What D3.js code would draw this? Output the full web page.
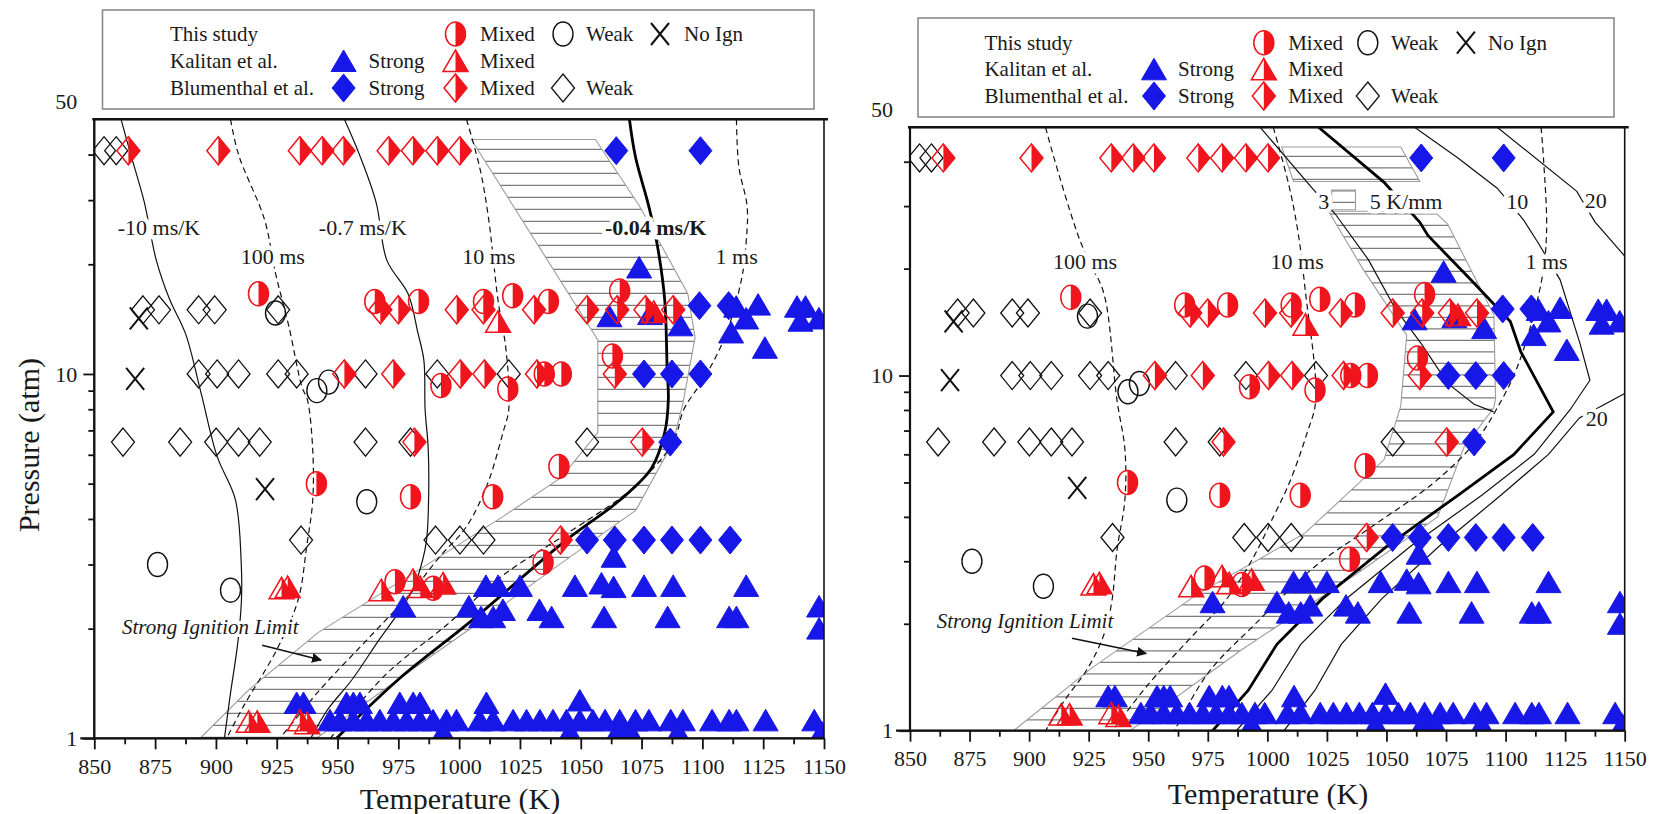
<!DOCTYPE html>
<html><head><meta charset="utf-8">
<script src="https://cdn.jsdelivr.net/npm/d3@7"></script>
<style>
body{margin:0;background:#fff}
svg{display:block}
svg text{font-family:'Liberation Serif','Times New Roman',Times,'Nimbus Roman',FreeSerif,'DejaVu Serif','Noto Serif',serif !important;fill:#1a1a1a}
</style></head>
<body><svg id="c" width="1658" height="814"></svg>
<script>
// ---------- axis ticks ----------
const tempMajor = d3.range(850, 1151, 25);
const tempMinor = d3.range(862.5, 1150, 25);
const pressMajor = [1, 10];
const pressTop = 50;
const pressMinor = [2,3,4,5,6,7,8,9,20,30,40];

// ---------- experimental data [T (K), P (atm)] ----------
const thisStudyMixed = [[917.5,16.6],[965.3,15.8],[983.3,15.8],[1010,15.8],[1022,16.4],[1036.7,15.8],[1066,16.9],[1063,11.2],[992.5,9.3],[1020,9.1],[1035,10],[1042,10],[941.3,5.0],[980,4.6],[1013.8,4.6],[1041,5.57],[1034.5,3.04],[973.6,2.69],[989.3,2.58]];
const thisStudyWeak = [[924.5,14.7],[941.5,9.0],[946.3,9.5],[962,4.46],[876,3.0],[906,2.55]];
const thisStudyNoIgn = [[868.3,14.2],[866.8,9.7],[920.2,4.83]];
const kalitanStrong = [
 [946.9,1.12],[951,1.12],[956.5,1.12],[962,1.12],[967.4,1.12],[972.9,1.12],[978.4,1.12],[983.9,1.12],[989.3,1.12],[994.8,1.12],[998.9,1.12],[1008.5,1.12],[1014,1.12],[1022.2,1.12],[1027.7,1.12],[1033.2,1.12],[1038.6,1.12],[1044.1,1.12],[1049.6,1.12],[1055,1.12],[1060,1.12],[1066,1.12],[1072.5,1.12],[1078,1.12],[1087,1.12],[1092,1.12],[1104,1.12],[1111,1.12],[1114,1.12],[1126,1.12],[1146,1.12],
 [933.2,1.25],[936,1.25],[953.7,1.25],[956.5,1.25],[959.2,1.25],[975.6,1.25],[981.1,1.25],[983.9,1.25],[1011.2,1.25],[1049.6,1.27],
 [993.4,1.04],[1045.5,1.04],[1065,1.04],[1070.5,1.04],[1090,1.04],[1149,1.04],
 [1011,2.62],[1016,2.62],[1025,2.62],[1047.6,2.62],[1058.5,2.66],[1063.5,2.6],[1076,2.62],[1088,2.62],[1118,2.62],
 [977,2.3],[1004,2.3],[1018,2.25],[1033,2.25],[1148,2.3],
 [1009,2.15],[1014,2.15],[1038,2.15],[1059.6,2.15],[1085.7,2.15],[1111,2.15],[1114,2.15],[1148,2.0],[1063.5,3.15],
 [1074,19.6],[1061.8,14.4],[1078.5,14.6],[1091,13.6],[1111.8,13],[1113.9,15.3],[1118,14.2],[1122.9,15.5],[1125.7,11.8],[1138.9,15.3],[1142.4,15.3],[1140.3,14],[1147.9,14.2]
];
const kalitanMixed = [[1016,13.9],[1080,14.8],[927,2.58],[929.5,2.6],[968,2.55],[981,2.72],[984,2.6],[993.4,2.66],[913.5,1.11],[917,1.11],[934.5,1.12],[937.5,1.1]];
const blumenthalStrong = [[1064.6,41],[1099.2,41],[1098.8,15.4],[1110.8,15.4],[1076,10],[1087.5,10],[1099.2,10],[1086.8,6.5],[1052.6,3.5],[1064,3.5],[1076,3.5],[1087.5,3.5],[1099.2,3.5],[1111.4,3.5]];
const blumenthalMixed = [[864,41],[901,41],[934.5,41],[943.7,41],[952.4,41],[971,41],[981,41],[991,41],[1000.3,41],[967.6,15],[975,15],[999,15],[1010,15],[1030.8,15],[1052.6,15],[1065,15],[1076.6,15],[1088,15],[952.8,10],[972.9,10],[1000.5,10],[1010.4,10],[1032,10],[1064,10],[981.6,6.5],[1075.3,6.5],[1041.7,3.5]];
const blumenthalWeak = [[854,41],[859,41],[870,15],[876.6,15],[892.9,15],[899.5,15],[925.6,15],[892.9,10],[900.5,10],[909.3,10],[925.6,10],[933.2,10],[961.5,10],[991,10],[1020.4,10],[861.8,6.5],[885.3,6.5],[900.1,6.5],[909.3,6.5],[918,6.5],[961.5,6.5],[980,6.5],[1052.6,6.5],[935,3.5],[990.3,3.5],[1000.3,3.5],[1010,3.5]];

// ---------- left panel model curves ----------
const leftSlope10 = [[861,50],[865,40],[870.5,29.7],[875.5,20.5],[881,16],[887.5,12.9],[894,8.8],[900.5,5.94],[908,4.52],[910.4,3.03],[910.5,2.4],[909,1.83],[906,1.33],[903.5,1.0]];
const leftSlope07 = [[952.8,50],[959,40],[965.9,29.5],[970.3,20.5],[979,16.6],[983,13],[985.5,10.9],[986,8],[987.3,6.2],[987.3,4.16],[986.6,3.5],[985,3.09],[981,2.56],[974,2.16],[967,1.86],[956,1.45],[946,1.2],[939,1.0]];
const leftSlope004 = [[1070,50],[1072.5,39.4],[1078,28.8],[1081.5,22.5],[1084.5,16],[1085.5,10.4],[1086,8.5],[1084.5,6.9],[1079,5.5],[1066,4.5],[1044,3.5],[1005,2.1],[975,1.45],[949.6,1.0]];
const left100ms = [[906,50],[909.3,40],[920,26.5],[924.5,18.9],[930,13.5],[935.4,9.2],[937.6,8.5],[939.8,6.2],[939.8,4.5],[937.3,3.36],[933.8,2.4],[925,1.75],[911.2,1.22],[904.4,1.0]];
const left10ms = [[1003,50],[1008.4,37],[1012,27],[1016,15.9],[1019.3,11.6],[1020.4,8],[1018,6.9],[1011.7,5.0],[1003,3.81],[992,3.15],[980,2.5],[962,1.86],[942.8,1.36],[926.3,1.0]];
const left1ms = [[1114,50],[1115,37],[1118.4,28.8],[1118,23],[1116.3,18.5],[1109.8,12.9],[1101,9.8],[1092.4,8],[1088,6.5],[1072,4.9],[1043,3.6],[1018,2.8],[995,2.05],[970,1.5],[947,1.0]];
const leftBand = [[1005,44],[1057,12.4],[1057,6.9],[1042,5.2],[1018,4.06],[985.5,2.96],[942,1.95],[913.6,1.36],[893.5,1.0],[941.4,1.0],[976.8,1.48],[1011.7,2.16],[1040,2.96],[1072.7,4.23],[1088,6.5],[1092,8.3],[1097,12.6],[1094,16.6],[1084,22],[1074,29],[1056,44]];

// ---------- right panel model curves ----------
const right100ms = [[906.9,50],[910,42],[920.2,25.2],[925,21],[931.3,17.1],[936.9,8.5],[940.2,6.2],[940.2,4.47],[936.9,3.23],[934.8,2.33],[931.6,1.88],[924.9,1.51],[915,1.22],[906.9,1.0]];
const right10ms = [[1002.5,50],[1009.2,34],[1013,25],[1015.9,17.4],[1020.3,8.5],[1016.7,6.9],[1009.2,4.98],[1002.5,4.0],[993.6,3.03],[982.5,2.33],[966.9,1.8],[950,1.35],[935,1.0]];
const right1ms = [[1114.9,50],[1116,40],[1117.2,25.2],[1114.9,18.2],[1105,10.6],[1096,8],[1087,6.46],[1070,5.0],[1045,3.8],[1020,2.9],[995,2.0],[975,1.45],[961,1.0]];
const rightGrad5 = [[1021.5,50],[1049,35],[1064,27],[1067.4,24.8],[1085.4,18.6],[1102,14.2],[1106.3,11.7],[1120,7.9],[1103.5,6.0],[1080,4.6],[1050,3.3],[1023,2.35],[1004,1.75],[992,1.3],[977,1.0]];
const rightGrad3 = [[997,50],[1018.8,33.7],[1028.5,28.5],[1042.4,21.2],[1053.5,15.5],[1064.6,12.3],[1075.7,9.5],[1086.8,8.3],[1095,7.9]];
const rightGrad10 = [[1061.8,50],[1080,41],[1096.5,33.7],[1107.6,27.4],[1113.9,23.5],[1122.9,18.6],[1131.25,12.3],[1135.4,9.7],[1127,8.0],[1112,6.0],[1090,4.6],[1060,3.3],[1033,2.35],[1014,1.75],[1002,1.3],[987,1.0]];
const rightGrad20a = [[1096.5,50],[1129.9,33],[1137.5,27.1],[1150,21.7]];
const rightGrad20b = [[1150,8.9],[1131,7.6],[1118,6.0],[1098,4.6],[1072,3.3],[1048,2.35],[1031,1.75],[1020,1.3],[1007,1.0]];
const rightBandTop = [[1006,44],[1056,44],[1064,35.2],[1011,35.2]];
const rightBandMid = [[1027,33.3],[1037,33.3],[1037,29.3],[1027,29.3]];
const rightBandLow = [[1025.7,29],[1070,29],[1075.7,26.7],[1095.1,14.8],[1095.8,8.6],[1095,8.1],[1082.6,6.3],[1071.5,4.0],[1038,2.78],[989.2,1.69],[942.4,1.0],[893.5,1.0],[926.8,1.51],[971.3,2.44],[1015.8,3.6],[1049,5.8],[1056,8.2],[1058.5,13],[1040,20]];

const RED = '#f0141c', BLUE = '#1717e8';
const FONT = "'Liberation Serif','Times New Roman',Times,'Nimbus Roman',FreeSerif,'DejaVu Serif','Noto Serif',serif";
const svg = d3.select('#c');

function marker(g, type, cx, cy) {
  const t = g.append('g').attr('transform', `translate(${cx},${cy})`);
  const dia = 'M0,-14L11.5,0L0,14L-11.5,0Z', diaR = 'M0,-14L11.5,0L0,14Z';
  const tri = 'M0,-11L12.5,10.5L-12.5,10.5Z', triR = 'M0,-11L12.5,10.5L0,10.5Z';
  const cirR = 'M0,-12A10,12 0 0 1 0,12Z';
  if (type === 'cirMixed') {
    t.append('ellipse').attr('rx',10).attr('ry',12).attr('fill','none').attr('stroke',RED).attr('stroke-width',1.5);
    t.append('path').attr('d',cirR).attr('fill',RED);
  } else if (type === 'cirWeak') {
    t.append('ellipse').attr('rx',10).attr('ry',12).attr('fill','none').attr('stroke','#111').attr('stroke-width',1.4);
  } else if (type === 'x') {
    t.append('path').attr('d','M-9,-11L9,11M9,-11L-9,11').attr('stroke','#111').attr('stroke-width',2);
  } else if (type === 'tri') {
    t.append('path').attr('d',tri).attr('fill',BLUE).attr('stroke',BLUE).attr('stroke-width',1);
  } else if (type === 'triMixed') {
    t.append('path').attr('d',tri).attr('fill','none').attr('stroke',RED).attr('stroke-width',1.5);
    t.append('path').attr('d',triR).attr('fill',RED);
  } else if (type === 'dia') {
    t.append('path').attr('d',dia).attr('fill',BLUE).attr('stroke',BLUE).attr('stroke-width',1);
  } else if (type === 'diaMixed') {
    t.append('path').attr('d',dia).attr('fill','none').attr('stroke',RED).attr('stroke-width',1.5);
    t.append('path').attr('d',diaR).attr('fill',RED);
  } else if (type === 'diaWeak') {
    t.append('path').attr('d',dia).attr('fill','none').attr('stroke','#111').attr('stroke-width',1.3);
  }
}

const panels = [
 { id:'L', x0:94.3, x1:824, y0:738.3, y1:119.3, hatch:12,
   bands:[leftBand],
   solid:[leftSlope10, leftSlope07], bold:[leftSlope004], dashed:[left100ms,left10ms,left1ms], curve:d3.curveCatmullRom.alpha(0.5),
   labels:[['-10 ms/K',876.6,25.3,false],['-0.7 ms/K',960.4,25.3,false],['100 ms',923.4,21,false],['10 ms',1012.2,21,false],['-0.04 ms/K',1080.8,25.3,true],['1 ms',1114.1,21,false]],
   sil:[861.4,2.02], arrow:[[919,1.80],[943.2,1.64]],
   title:[460,798], ytitle:true,
   legend:{box:[102.5,10,711.5,99], lx:170, rows:[34,61,88], mx:[343.6,455.5,563,660], tx:[368.5,480,586,684]} },
 { id:'R', x0:910, x1:1624.7, y0:730.7, y1:127.3, hatch:11.5,
   bands:[rightBandTop,rightBandMid,rightBandLow],
   solid:[rightGrad3,rightGrad10,rightGrad20a,rightGrad20b], bold:[rightGrad5], dashed:[right100ms,right10ms,right1ms], curve:d3.curveLinear,
   labels:[['100 ms',923.5,20.9,false],['10 ms',1012.5,20.9,false],['1 ms',1117.2,20.9,false],['3',1023.7,30.9,false],['5 K/mm',1058.2,30.9,false],['10',1104.9,30.9,false],['20',1137.9,31.1,false],['20',1138.3,7.58,false]],
   sil:[861.2,2.03], arrow:[[918,1.82],[949.1,1.65]],
   title:[1268,793], ytitle:false,
   legend:{box:[918,18,696,99], lx:984.4, rows:[42.7,69.3,96], mx:[1154,1263.8,1367.8,1465.9], tx:[1178,1288.2,1391,1488]} }
];

const defs = svg.append('defs');
defs.append('marker').attr('id','ah').attr('viewBox','0 0 10 10').attr('refX',9).attr('refY',5)
  .attr('markerWidth',10).attr('markerHeight',10).attr('markerUnits','userSpaceOnUse').attr('orient','auto')
  .append('path').attr('d','M0,0L10,5L0,10Z').attr('fill','#111');

function txt(g, x, y, s, size) {
  return g.append('text').attr('x',x).attr('y',y).style('font-family',FONT).attr('font-size',size)
    .attr('dominant-baseline','central').text(s);
}

panels.forEach(p => {
  const x = d3.scaleLinear().domain([850,1150]).range([p.x0,p.x1]);
  const y = d3.scaleLog().domain([1,50]).range([p.y0,p.y1]);
  const g = svg.append('g');
  const clipId = 'plot'+p.id;
  defs.append('clipPath').attr('id',clipId).append('rect')
    .attr('x',p.x0).attr('y',p.y1).attr('width',p.x1-p.x0).attr('height',p.y0-p.y1);
  const pg = g.append('g').attr('clip-path',`url(#${clipId})`);
  const poly = d3.line().x(d=>x(d[0])).y(d=>y(d[1]));
  p.bands.forEach((b,i) => {
    const id = 'band'+p.id+i;
    defs.append('clipPath').attr('id',id).append('path').attr('d',poly(b)+'Z');
    const hg = pg.append('g').attr('clip-path',`url(#${id})`);
    for (let yy = p.y1 + 6; yy < p.y0; yy += p.hatch) {
      hg.append('line').attr('x1',p.x0).attr('x2',p.x1).attr('y1',yy).attr('y2',yy)
        .attr('stroke','#7c7c7c').attr('stroke-width',1.2);
    }
    pg.append('path').attr('d',poly(b)+'Z').attr('fill','none').attr('stroke','#9c9c9c').attr('stroke-width',1.1);
  });
  const ln = d3.line().x(d=>x(d[0])).y(d=>y(d[1])).curve(p.curve);
  const lnS = d3.line().x(d=>x(d[0])).y(d=>y(d[1])).curve(d3.curveCatmullRom.alpha(0.5));
  p.dashed.forEach(c => pg.append('path').attr('d',lnS(c)).attr('fill','none').attr('stroke','#111').attr('stroke-width',1.2).attr('stroke-dasharray','6,4'));
  p.solid.forEach(c => pg.append('path').attr('d',ln(c)).attr('fill','none').attr('stroke','#111').attr('stroke-width',1.2));
  p.bold.forEach(c => pg.append('path').attr('d',ln(c)).attr('fill','none').attr('stroke','#000').attr('stroke-width',2.8));
  p.labels.forEach(l => {
    txt(pg, x(l[1]), y(l[2]), l[0], 22).attr('text-anchor','middle')
      .attr('font-weight',l[3]?'bold':'normal')
      .attr('stroke','#fff').attr('stroke-width',9).attr('paint-order','stroke').attr('stroke-linejoin','round');
  });
  txt(pg, x(p.sil[0]), y(p.sil[1]), 'Strong Ignition Limit', 21).attr('font-style','italic')
    .attr('stroke','#fff').attr('stroke-width',6).attr('paint-order','stroke');
  pg.append('line').attr('x1',x(p.arrow[0][0])).attr('y1',y(p.arrow[0][1])).attr('x2',x(p.arrow[1][0])).attr('y2',y(p.arrow[1][1]))
    .attr('stroke','#111').attr('stroke-width',1.5).attr('marker-end','url(#ah)');
  const mg = pg.append('g');
  blumenthalWeak.forEach(d => marker(mg,'diaWeak',x(d[0]),y(d[1])));
  thisStudyWeak.forEach(d => marker(mg,'cirWeak',x(d[0]),y(d[1])));
  thisStudyNoIgn.forEach(d => marker(mg,'x',x(d[0]),y(d[1])));
  blumenthalStrong.forEach(d => marker(mg,'dia',x(d[0]),y(d[1])));
  kalitanStrong.forEach(d => marker(mg,'tri',x(d[0]),y(d[1])));
  blumenthalMixed.forEach(d => marker(mg,'diaMixed',x(d[0]),y(d[1])));
  kalitanMixed.forEach(d => marker(mg,'triMixed',x(d[0]),y(d[1])));
  thisStudyMixed.forEach(d => marker(mg,'cirMixed',x(d[0]),y(d[1])));

  const ax = g.append('g').attr('transform',`translate(0,${p.y0})`)
    .call(d3.axisBottom(x).tickValues(tempMajor).tickSize(11).tickPadding(9).tickFormat(d3.format('d')));
  const axm = g.append('g').attr('transform',`translate(0,${p.y0})`)
    .call(d3.axisBottom(x).tickValues(tempMinor).tickSize(6).tickFormat(''));
  const ay = g.append('g').attr('transform',`translate(${p.x0},0)`)
    .call(d3.axisLeft(y).tickValues(pressMajor).tickSize(11).tickPadding(6).tickFormat(d3.format('d')));
  const aym = g.append('g').attr('transform',`translate(${p.x0},0)`)
    .call(d3.axisLeft(y).tickValues(pressMinor).tickSize(6).tickFormat(''));
  [ax,axm,ay,aym].forEach(a => {
    a.attr('font-family',null);
    a.select('.domain').remove();
    a.selectAll('line').attr('stroke','#111').attr('stroke-width',1.8);
    a.selectAll('text').attr('font-size',22).style('font-family',FONT).attr('fill','#1a1a1a');
  });
  txt(g, p.x0-17, y(pressTop)-18, pressTop, 22).attr('text-anchor','end');
  g.append('rect').attr('x',p.x0).attr('y',p.y1).attr('width',p.x1-p.x0).attr('height',p.y0-p.y1)
    .attr('fill','none').attr('stroke','#111').attr('stroke-width',1.6);
  g.append('line').attr('x1',p.x0-2).attr('x2',p.x1+4).attr('y1',p.y1).attr('y2',p.y1).attr('stroke','#111').attr('stroke-width',2.6);
  g.append('line').attr('x1',p.x0).attr('x2',p.x0).attr('y1',p.y1).attr('y2',p.y0).attr('stroke','#111').attr('stroke-width',2.2);
  g.append('line').attr('x1',p.x0-14).attr('x2',p.x1).attr('y1',p.y0).attr('y2',p.y0).attr('stroke','#111').attr('stroke-width',2.2);
  txt(g, p.title[0], p.title[1], 'Temperature (K)', 30).attr('text-anchor','middle');
  if (p.ytitle) {
    g.append('text').attr('transform','translate(28,445) rotate(-90)').attr('text-anchor','middle').attr('dominant-baseline','central')
      .style('font-family',FONT).attr('font-size',30).text('Pressure (atm)');
  }
  const L = p.legend, lg = g.append('g');
  lg.append('rect').attr('x',L.box[0]).attr('y',L.box[1]).attr('width',L.box[2]).attr('height',L.box[3])
    .attr('fill','#fff').attr('stroke','#8a8a8a').attr('stroke-width',1.6);
  const rowsDef = [
    ['This study', [null,['cirMixed','Mixed'],['cirWeak','Weak'],['x','No Ign']]],
    ['Kalitan et al.', [['tri','Strong'],['triMixed','Mixed'],null,null]],
    ['Blumenthal et al.', [['dia','Strong'],['diaMixed','Mixed'],['diaWeak','Weak'],null]]
  ];
  rowsDef.forEach((r,ri) => {
    const ry = L.rows[ri];
    txt(lg, L.lx, ry, r[0], 21);
    r[1].forEach((it,ci) => {
      if (!it) return;
      marker(lg, it[0], L.mx[ci], ry);
      txt(lg, L.tx[ci], ry, it[1], 21);
    });
  });
});
</script>
</body></html>
